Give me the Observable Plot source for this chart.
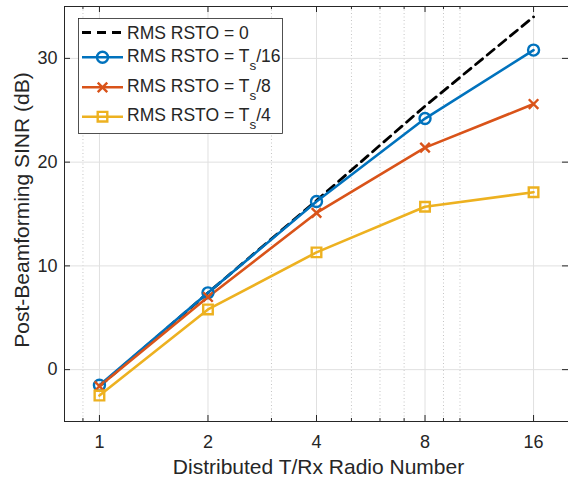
<!DOCTYPE html>
<html><head><meta charset="utf-8">
<script src="https://cdn.jsdelivr.net/npm/d3@7"></script>
<script src="https://cdn.jsdelivr.net/npm/@observablehq/plot@0.6"></script>
<style>body{margin:0;background:#fff} #chart{width:568px;height:478px;overflow:hidden}</style>
</head><body><div id="chart"></div>
<script>
// ---- data ----
const radios = [1, 2, 4, 8, 16];
const rms0  = [-1.6, 7.4, 16.3, 25.4, 34.0];
const ts16  = [-1.5, 7.4, 16.2, 24.2, 30.8];
const ts8   = [-1.6, 7.0, 15.1, 21.4, 25.6];
const ts4   = [-2.5, 5.8, 11.3, 15.7, 17.1];
const seriesNames = ["RMS RSTO = 0", "RMS RSTO = Ts/16", "RMS RSTO = Ts/8", "RMS RSTO = Ts/4"];
const xTicks = [1, 2, 4, 8, 16];
const xMinor = [0.9, 3, 5, 6, 7, 9, 10];
const yTicks = [0, 10, 20, 30];
const xDomain = [0.8, 20];
const yDomain = [-5, 35];
const xLabel = "Distributed T/Rx Radio Number";
const yLabel = "Post-Beamforming SINR (dB)";

// ---- styles ----
const colors = ["#000000", "#0072BD", "#D95319", "#EDB120"];
const symbols = [null, "circle", "times", "square"];
const ink = "#262626";
const W = 568, H = 478, mL = 64, mR = 0, mT = 6, mB = 57;
const iw = W - mL - mR, ih = H - mT - mB;

const allValues = [rms0, ts16, ts8, ts4];
const rows = allValues.flatMap((vals, si) => vals.map((v, i) => ({s: seriesNames[si], n: radios[i], v})));
const bySeries = i => rows.filter(r => r.s === seriesNames[i]);

const font = "'Liberation Sans', Arial, Helvetica, sans-serif";

const marks = [
  Plot.ruleX(xMinor, {x: d => d, stroke: "#c4c4c4", strokeDasharray: "1,2.5"}),
  Plot.ruleX(xTicks, {x: d => d, stroke: "#e0e0e0"}),
  Plot.ruleY(yTicks, {y: d => d, stroke: "#e0e0e0"}),
  // ticks (inward)
  Plot.tickX(xTicks, {x: d => d, insetTop: ih - 6, stroke: ink}),
  Plot.tickX(xTicks, {x: d => d, insetBottom: ih - 6, stroke: ink}),
  Plot.tickX(xMinor, {x: d => d, insetTop: ih - 3, stroke: ink}),
  Plot.tickX(xMinor, {x: d => d, insetBottom: ih - 3, stroke: ink}),
  Plot.tickY(yTicks, {y: d => d, insetRight: iw - 6, stroke: ink}),
  Plot.tickY(yTicks, {y: d => d, insetLeft: iw - 6, stroke: ink}),
  // lines
  Plot.line(bySeries(0), {x: "n", y: "v", stroke: colors[0], strokeWidth: 2.8, strokeDasharray: "9,6"}),
];
for (let i = 1; i < 4; i++) {
  marks.push(Plot.line(bySeries(i), {x: "n", y: "v", stroke: colors[i], strokeWidth: 2.6}));
}
marks.push(Plot.dot(bySeries(1), {x: "n", y: "v", symbol: "circle", r: 5.5, stroke: colors[1], strokeWidth: 2.4, fill: "none"}));
marks.push(Plot.dot(bySeries(2), {x: "n", y: "v", symbol: "times", r: 4.4, stroke: colors[2], strokeWidth: 2.4}));
marks.push(Plot.dot(bySeries(3), {x: "n", y: "v", symbol: "square", r: 5.4, stroke: colors[3], strokeWidth: 2.4, fill: "none"}));
marks.push(Plot.frame({stroke: ink, strokeWidth: 1}));
// tick labels
marks.push(Plot.text(xTicks, {x: d => d, frameAnchor: "bottom", lineAnchor: "middle", dy: 20.5, text: d => String(d), fontSize: 18, fill: ink}));
marks.push(Plot.text(yTicks, {y: d => d, frameAnchor: "left", lineAnchor: "middle", dx: -7, textAnchor: "end", text: d => String(d), fontSize: 18, fill: ink}));
// axis labels
marks.push(Plot.text([xLabel], {frameAnchor: "bottom", lineAnchor: "middle", textAnchor: "middle", dy: 46, dx: 2, text: d => d, fontSize: 21, fill: ink}));
marks.push(Plot.text([yLabel], {frameAnchor: "left", lineAnchor: "middle", textAnchor: "middle", dx: -42, dy: -4, rotate: -90, text: d => d, fontSize: 21, fill: ink}));

const svg = Plot.plot({
  width: W, height: H,
  marginLeft: mL, marginRight: mR, marginTop: mT, marginBottom: mB,
  x: {type: "log", base: 2, domain: xDomain, axis: null},
  y: {domain: yDomain, axis: null},
  style: {fontFamily: font, background: "#fff", overflow: "visible"},
  marks
});
document.getElementById("chart").appendChild(svg);

// ---- legend ----
const lg = d3.select(svg).append("g").attr("font-family", font).attr("fill", ink).attr("text-anchor", "start");
lg.append("rect").attr("x", 78.5).attr("y", 18.5).attr("width", 204).attr("height", 115)
  .attr("fill", "#fff").attr("stroke", ink).attr("stroke-width", 0.8);
const rowY = [32.5, 57.3, 87.3, 116.7];
const baseY = [39.2, 62, 92, 121];
seriesNames.forEach((name, i) => {
  const y = rowY[i];
  lg.append("line").attr("x1", 82).attr("x2", 123).attr("y1", y).attr("y2", y)
    .attr("stroke", colors[i]).attr("stroke-width", i === 0 ? 2.8 : 2.6)
    .attr("stroke-dasharray", i === 0 ? "9,6" : null);
  if (symbols[i]) {
    const sz = symbols[i] === "circle" ? Math.PI * 5.5 * 5.5 : symbols[i] === "times" ? Math.PI * 4.4 * 4.4 : Math.PI * 5.4 * 5.4;
    const sym = symbols[i] === "circle" ? d3.symbolCircle : symbols[i] === "times" ? d3.symbolTimes : d3.symbolSquare;
    lg.append("path").attr("d", d3.symbol(sym, sz)()).attr("transform", `translate(102.5,${y})`)
      .attr("fill", "none").attr("stroke", colors[i]).attr("stroke-width", 2.4);
  }
  const t = lg.append("text").attr("x", 127).attr("y", baseY[i]).attr("font-size", 17.5).attr("text-anchor", "start");
  const m = name.match(/^(.*= )Ts(\/\d+)$/);
  if (m) {
    t.append("tspan").text(m[1] + "T");
    t.append("tspan").attr("dy", 8).attr("font-size", 13.5).text("s");
    t.append("tspan").attr("dy", -8).text(m[2]);
  } else {
    t.text(name);
  }
});
</script>
</body></html>
